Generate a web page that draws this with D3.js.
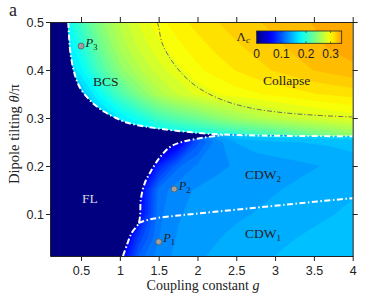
<!DOCTYPE html>
<html>
<head>
<meta charset="utf-8">
<script src="https://cdn.jsdelivr.net/npm/d3@7"></script>
<style>
  body { margin: 0; background: #fff; }
  text { fill: #222; }
</style>
</head>
<body>
<svg id="chart" width="390" height="293"></svg>
<script>
// ---- data ----
// grid of coupling constant g (columns) shared by both fields
const gGrid = [0, 0.25, 0.5, 0.75, 1, 1.25, 1.5, 1.75, 2, 2.25, 2.5, 2.75, 3, 3.25, 3.5, 3.75, 4];

// BCS / collapse field, rows from top (theta/pi)
const thetaUpper = [0.5, 0.45, 0.4, 0.35, 0.3, 0.25];
const lambdaUpper = [
  [0.17, 0.17, 0.21, 0.245, 0.268, 0.285, 0.298, 0.306, 0.313, 0.318, 0.322, 0.326, 0.329, 0.333, 0.336, 0.339, 0.343],
  [0.16, 0.16, 0.195, 0.232, 0.26, 0.278, 0.29, 0.299, 0.306, 0.312, 0.317, 0.321, 0.325, 0.329, 0.333, 0.337, 0.34],
  [0.15, 0.15, 0.178, 0.215, 0.245, 0.265, 0.28, 0.29, 0.299, 0.305, 0.31, 0.315, 0.319, 0.323, 0.327, 0.33, 0.333],
  [0.14, 0.14, 0.15, 0.185, 0.215, 0.24, 0.262, 0.276, 0.286, 0.292, 0.297, 0.3, 0.303, 0.306, 0.309, 0.311, 0.313],
  [0.13, 0.13, 0.13, 0.15, 0.172, 0.19, 0.21, 0.222, 0.232, 0.245, 0.255, 0.263, 0.27, 0.275, 0.28, 0.284, 0.287],
  [0.12, 0.12, 0.12, 0.13, 0.14, 0.15, 0.155, 0.16, 0.165, 0.168, 0.175, 0.183, 0.19, 0.2, 0.21, 0.22, 0.23]
];

// CDW field, rows from top (theta/pi)
const thetaLower = [0.3, 0.25, 0.2, 0.15, 0.1, 0.05, 0];
const lambdaLower = [
  [0, 0, 0, 0, 0, 0, 0, 0.08, 0.14, 0.17, 0.2, 0.2, 0.2, 0.2, 0.2, 0.2, 0.2],
  [0, 0, 0, 0, 0, 0, 0, 0.05, 0.10, 0.125, 0.138, 0.142, 0.145, 0.146, 0.147, 0.148, 0.15],
  [0, 0, 0, 0, 0, 0.02, 0.075, 0.11, 0.122, 0.127, 0.13, 0.132, 0.133, 0.135, 0.137, 0.139, 0.141],
  [0, 0, 0, 0, 0, 0.055, 0.115, 0.126, 0.13, 0.132, 0.134, 0.135, 0.137, 0.139, 0.141, 0.143, 0.145],
  [0, 0, 0, 0, 0, 0.06, 0.118, 0.128, 0.132, 0.134, 0.136, 0.138, 0.14, 0.142, 0.144, 0.146, 0.148],
  [0, 0, 0, 0, 0.03, 0.09, 0.12, 0.13, 0.135, 0.137, 0.14, 0.142, 0.144, 0.146, 0.148, 0.15, 0.152],
  [0, 0, 0, 0, 0.055, 0.11, 0.125, 0.132, 0.137, 0.14, 0.142, 0.145, 0.147, 0.149, 0.151, 0.153, 0.155]
];

// phase boundaries [g, theta/pi]
const flBcsLine = [[0.335, 0.5], [0.345, 0.47], [0.36, 0.44], [0.39, 0.41], [0.43, 0.385], [0.49, 0.362],
  [0.58, 0.343], [0.68, 0.327], [0.8, 0.313], [0.95, 0.3], [1.1, 0.29], [1.3, 0.283], [1.5, 0.278],
  [1.7, 0.274], [2.0, 0.269], [2.33, 0.2655], [2.8, 0.2635], [3.4, 0.2625], [4.0, 0.262]];
const flCdwLine = [[1.04, 0.0125], [1.09, 0.035], [1.15, 0.06], [1.24, 0.08], [1.26, 0.095], [1.27, 0.13],
  [1.32, 0.164], [1.41, 0.192], [1.52, 0.219], [1.65, 0.24], [1.82, 0.251], [2.08, 0.259], [2.33, 0.2645]];
const cdwLine = [[1.24, 0.081], [1.39, 0.089], [1.82, 0.098], [2.25, 0.105], [2.68, 0.112], [3.11, 0.119],
  [3.54, 0.126], [4.0, 0.133]];
const collapseLine = [[1.48, 0.5], [1.5, 0.49], [1.54, 0.458], [1.65, 0.4236], [1.82, 0.389], [2.03, 0.361],
  [2.33, 0.337], [2.68, 0.321], [3.11, 0.311], [3.54, 0.3056], [4.0, 0.302]];

const points = [{g: 1.5, t: 0.042, sub: "1"}, {g: 1.7, t: 0.152, sub: "2"}, {g: 0.5, t: 0.45, sub: "3"}];
const xTicks = [0.5, 1, 1.5, 2, 2.5, 3, 3.5, 4];
const yTicks = [0.1, 0.2, 0.3, 0.4, 0.5];
const cbTicks = [0, 0.1, 0.2, 0.3];

// colour map (jet, cut at orange)
const cStops = [0, 0.06, 0.18, 0.30, 0.345];
const cColors = ["#000080", "#0000ff", "#00ffff", "#ffff00", "#ff9e00"];

// ---- setup ----
const svg = d3.select("#chart");
const x = d3.scaleLinear().domain([0.1, 4]).range([50, 352.7]);
const y = d3.scaleLinear().domain([0.0125, 0.5]).range([256, 22]);
const color = d3.scaleLinear().domain(cStops).range(cColors).clamp(true);

const defs = svg.append("defs");
defs.append("clipPath").attr("id", "plotClip")
  .append("rect").attr("x", 50).attr("y", 22).attr("width", 302.7).attr("height", 234);

const curve = d3.line().x(d => x(d[0])).y(d => y(d[1])).curve(d3.curveCatmullRom);

defs.append("clipPath").attr("id", "upperClip").append("path")
  .attr("d", curve(flBcsLine) + `L${x(4.3)},${y(0.262)}L${x(4.3)},${y(0.56)}L${x(0.335)},${y(0.56)}Z`);

const cdwEdge = flCdwLine.concat(flBcsLine.filter(p => p[0] > 2.33));
defs.append("clipPath").attr("id", "lowerClip").append("path")
  .attr("d", curve(cdwEdge) + `L${x(4.3)},${y(0.262)}L${x(4.3)},${y(-0.05)}L${x(1.04)},${y(-0.05)}Z`);

const plot = svg.append("g").attr("clip-path", "url(#plotClip)");

// FL region background
plot.append("rect").attr("x", 50).attr("y", 22).attr("width", 302.7).attr("height", 234)
  .attr("fill", color(0));

const step = 0.0086;
const levels = d3.range(0, 0.36, step);

function drawField(values, rows, clipId) {
  const nx = gGrid.length, ny = rows.length;
  const dg = gGrid[1] - gGrid[0], dt = rows[0] - rows[1];
  const bands = d3.contours().size([nx, ny]).thresholds(levels)(values.flat());
  const proj = d3.geoTransform({
    point(px, py) { this.stream.point(x(gGrid[0] + (px - 0.5) * dg), y(rows[0] - (py - 0.5) * dt)); }
  });
  const path = d3.geoPath(proj);
  plot.append("g").attr("clip-path", `url(#${clipId})`)
    .selectAll("path").data(bands).join("path")
    .attr("d", path)
    .attr("fill", d => color(d.value + step / 2))
    .attr("stroke", d => color(d.value + step / 2))
    .attr("stroke-width", 0.3);
}
drawField(lambdaUpper, thetaUpper, "upperClip");
drawField(lambdaLower, thetaLower, "lowerClip");

// boundaries
[flBcsLine, flCdwLine, cdwLine].forEach(line => {
  plot.append("path").attr("d", curve(line))
    .attr("fill", "none").attr("stroke", "#fff").attr("stroke-width", 2)
    .attr("stroke-dasharray", "6,2.5,1.5,2.5");
});
plot.append("path").attr("d", curve(collapseLine))
  .attr("fill", "none").attr("stroke", "#6e6e5a").attr("stroke-width", 1)
  .attr("stroke-dasharray", "5,2,1.2,2");

// marked points
const serif = "'Liberation Serif', 'Times New Roman', serif";
points.forEach(p => {
  plot.append("circle").attr("cx", x(p.g)).attr("cy", y(p.t)).attr("r", 3)
    .attr("fill", "#a0a0a0").attr("stroke", "#5a5a5a").attr("stroke-width", 0.8);
  const t = svg.append("text").attr("x", x(p.g) + 4.5).attr("y", y(p.t) + 0.5)
    .attr("font-family", serif).attr("font-size", 12.5)
    .attr("font-style", "italic").text("P");
  t.append("tspan").attr("dy", 3).attr("font-size", 8.5).attr("font-style", "normal").text(p.sub);
});

// region labels
function label(xp, yp, txt, sub, fill) {
  const t = svg.append("text").attr("x", xp).attr("y", yp)
    .attr("font-family", serif).attr("font-size", 13.5).style("fill", fill || "#222").text(txt);
  if (sub) t.append("tspan").attr("dy", 3).attr("font-size", 9).text(sub);
}
label(93, 86, "BCS");
label(263, 85, "Collapse");
label(245, 179, "CDW", "2");
label(245, 238, "CDW", "1");
label(82, 203, "FL", null, "#d8d8e8");

// axes
const sans = "'Liberation Sans', Arial, sans-serif";
function styleAxis(sel) {
  sel.selectAll(".domain").attr("stroke", "#222");
  sel.selectAll(".tick line").attr("stroke", "#222");
  sel.selectAll("text").attr("font-family", sans).attr("font-size", 12.5).style("fill", "#222");
}
svg.append("g").attr("transform", "translate(0,256)")
  .call(d3.axisBottom(x).tickValues(xTicks).tickFormat(d => d).tickSize(5).tickPadding(5).tickSizeOuter(0))
  .call(styleAxis);
svg.append("g").attr("transform", "translate(0,22)")
  .call(d3.axisTop(x).tickValues(xTicks).tickFormat("").tickSize(5).tickSizeOuter(0))
  .call(styleAxis);
svg.append("g").attr("transform", "translate(50,0)")
  .call(d3.axisLeft(y).tickValues(yTicks).tickFormat(d => d).tickSize(4).tickPadding(2).tickSizeOuter(0))
  .call(styleAxis);
svg.append("g").attr("transform", "translate(352.7,0)")
  .call(d3.axisRight(y).tickValues(yTicks).tickFormat("").tickSize(5).tickSizeOuter(0))
  .call(styleAxis);

// axis titles
const xt = svg.append("text").attr("x", 203).attr("y", 290.3).attr("text-anchor", "middle")
  .attr("font-family", serif).attr("font-size", 14).text("Coupling constant ");
xt.append("tspan").attr("font-style", "italic").text("g");
const yt = svg.append("text").attr("transform", "translate(18.5,134) rotate(-90)")
  .attr("text-anchor", "middle").attr("font-family", serif).attr("font-size", 14.5).text("Dipole tilting ");
yt.append("tspan").attr("font-style", "italic").text("θ");
yt.append("tspan").text("/π");

svg.append("text").attr("x", 9).attr("y", 16).attr("font-family", serif).attr("font-size", 18).text("a");

// colour bar
const cb = d3.scaleLinear().domain([0, 0.345]).range([256.7, 341.7]);
const grad = defs.append("linearGradient").attr("id", "cbGrad");
d3.range(0, 1.0001, 0.05).forEach(f => {
  grad.append("stop").attr("offset", f).attr("stop-color", color(f * 0.345));
});
svg.append("rect").attr("x", cb(0)).attr("y", 31).attr("width", cb(0.345) - cb(0)).attr("height", 12.3)
  .attr("fill", "url(#cbGrad)").attr("stroke", "#222").attr("stroke-width", 0.8);
cbTicks.forEach(v => {
  svg.append("line").attr("x1", cb(v)).attr("x2", cb(v)).attr("y1", 31).attr("y2", 33)
    .attr("stroke", "#222").attr("stroke-width", 0.6);
  svg.append("line").attr("x1", cb(v)).attr("x2", cb(v)).attr("y1", 41.3).attr("y2", 43.3)
    .attr("stroke", "#222").attr("stroke-width", 0.6);
  svg.append("text").attr("x", cb(v)).attr("y", 57.5).attr("text-anchor", "middle")
    .attr("font-family", sans).attr("font-size", 12).text(v);
});
const lc = svg.append("text").attr("x", 236.5).attr("y", 40.5).attr("font-family", serif)
  .attr("font-size", 13).text("Λ");
lc.append("tspan").attr("dy", 2.5).attr("font-size", 9).attr("font-style", "italic").text("c");
</script>
</body>
</html>
